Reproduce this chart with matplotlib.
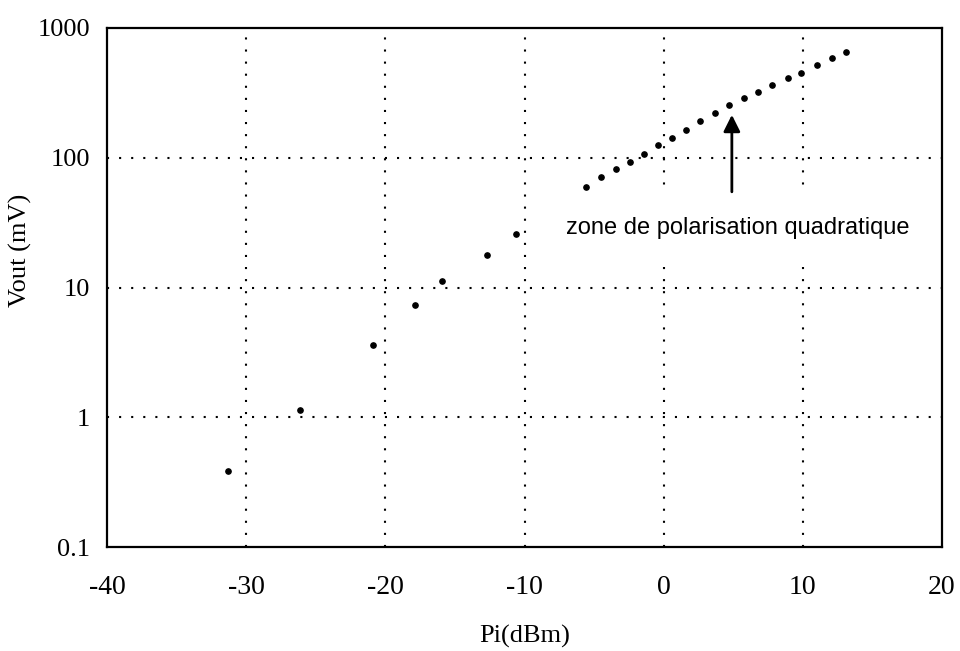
import matplotlib
matplotlib.use("Agg")
import matplotlib.pyplot as plt

# measured points: input power (dBm) and output voltage (mV)
pi_dbm = [-31.3, -26.1, -20.9, -17.9, -15.9, -12.7, -10.6,
          -5.6, -4.5, -3.4, -2.4, -1.4, -0.4, 0.6, 1.6, 2.6, 3.7,
          4.7, 5.8, 6.8, 7.8, 8.9, 9.9, 11.0, 12.1, 13.1]
vout_mv = [0.386, 1.14, 3.63, 7.3, 11.2, 17.8, 26.0,
           60, 71, 82, 92, 107, 126, 141, 165, 191, 221,
           255, 289, 322, 365, 414, 453, 523, 583, 649]

x_ticks = [-40, -30, -20, -10, 0, 10, 20]
y_ticks = [0.1, 1, 10, 100, 1000]
y_tick_labels = ["0.1", "1", "10", "100", "1000"]

serif = ["Liberation Serif", "DejaVu Serif"]
sans = ["Liberation Sans Narrow", "Liberation Sans", "DejaVu Sans"]

fig = plt.figure(figsize=(9.6, 6.51), dpi=100)
ax = fig.add_axes([107 / 960, 1 - 547 / 651, (942 - 107) / 960, (547 - 28) / 651])

ax.set_yscale("log")
ax.set_xlim(-40, 20)
ax.set_ylim(0.1, 1000)

# dotted grid only on the inner lines
dots = dict(color="black", linewidth=1.5, linestyle=(0, (1, 4.8)), zorder=1)
for gx in x_ticks[1:-1]:
    ax.axvline(gx, **dots)
for gy in y_ticks[1:-1]:
    ax.axhline(gy, **dots)

ax.plot(pi_dbm, vout_mv, "o", color="black", markersize=3.8, zorder=3)

ax.set_xticks(x_ticks)
ax.set_xticklabels([str(v) for v in x_ticks], family=serif, fontsize=20)
ax.set_yticks(y_ticks)
ax.set_yticklabels(y_tick_labels, family=serif, fontsize=19)
ax.minorticks_off()
ax.tick_params(axis="x", length=0, pad=20)
ax.tick_params(axis="y", length=0, pad=12)

for sp in ax.spines.values():
    sp.set_linewidth(1.6)

ax.set_xlabel("Pi(dBm)", family=serif, fontsize=19, labelpad=18)
fig.text(20 / 960, 1 - 250 / 651, "Vout (mV)", family=serif, fontsize=19,
         rotation=90, ha="center", va="center")

ax.annotate("", xy=(4.9, 225), xytext=(4.9, 52),
            arrowprops=dict(arrowstyle="-|>", color="black", lw=2,
                            mutation_scale=25), zorder=4)
ax.text(5.3, 28.6, "zone de polarisation quadratique", family=sans,
        fontsize=17, ha="center", va="center", zorder=2,
        bbox=dict(boxstyle="square,pad=1.0", facecolor="white", edgecolor="none"))

fig.savefig("out.png", dpi=100)
